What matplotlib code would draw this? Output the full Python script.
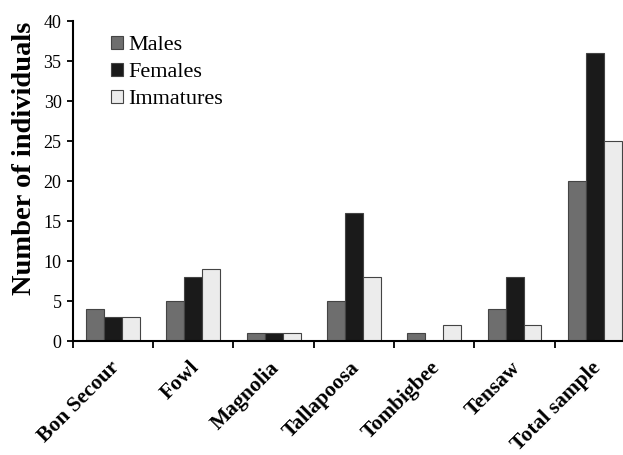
import matplotlib
matplotlib.use("Agg")
import matplotlib.pyplot as plt
import numpy as np

categories = ["Bon Secour", "Fowl", "Magnolia", "Tallapoosa", "Tombigbee", "Tensaw", "Total sample"]
males = [4, 5, 1, 5, 1, 4, 20]
females = [3, 8, 1, 16, 0, 8, 36]
immatures = [3, 9, 1, 8, 2, 2, 25]
series_names = ["Males", "Females", "Immatures"]
colors = ["#6e6e6e", "#1a1a1a", "#ececec"]

plt.rcParams['font.family'] = ['Liberation Serif', 'DejaVu Serif']

fig = plt.figure(figsize=(6.23, 4.55), dpi=100)
ax = fig.add_axes([72.7/623, 114/455, 562.3/623, 320/455])

x = np.arange(len(categories))
w = 0.224
for i, (vals, name, c) in enumerate(zip([males, females, immatures], series_names, colors)):
    ax.bar(x + (i - 1) * w, vals, width=w, color=c, edgecolor="#444444", linewidth=0.8, label=name)

ax.set_xlim(-0.5, len(categories) - 0.5)
ax.set_ylim(0, 40)
ax.set_yticks(range(0, 41, 5))
ax.tick_params(axis='y', labelsize=13, direction='out', length=4, width=1.3, pad=4)
ax.set_xticks(np.arange(-0.5, len(categories), 1.0))
ax.set_xticklabels([])
ax.set_xticks(x - 0.05, minor=True)
ax.set_xticklabels(categories, minor=True, rotation=45, ha='right', rotation_mode='anchor',
                   fontsize=15.5, fontweight='bold')
ax.tick_params(axis='x', which='major', direction='out', length=5, width=1.3)
ax.tick_params(axis='x', which='minor', length=0, pad=12)
for s in ['top', 'right']:
    ax.spines[s].set_visible(False)
for s in ['left', 'bottom']:
    ax.spines[s].set_linewidth(1.5)
ax.set_ylabel("Number of individuals", fontsize=20.5, fontweight='bold')
ax.yaxis.set_label_coords(-0.063, 0.57)

leg = ax.legend(loc='upper left', bbox_to_anchor=(102/623, 1 - 27/455), bbox_transform=fig.transFigure,
                frameon=False, fontsize=16, handlelength=0.55, handleheight=0.55,
                handletextpad=0.23, labelspacing=0.33, borderaxespad=0)

fig.savefig("out.png", dpi=100)
